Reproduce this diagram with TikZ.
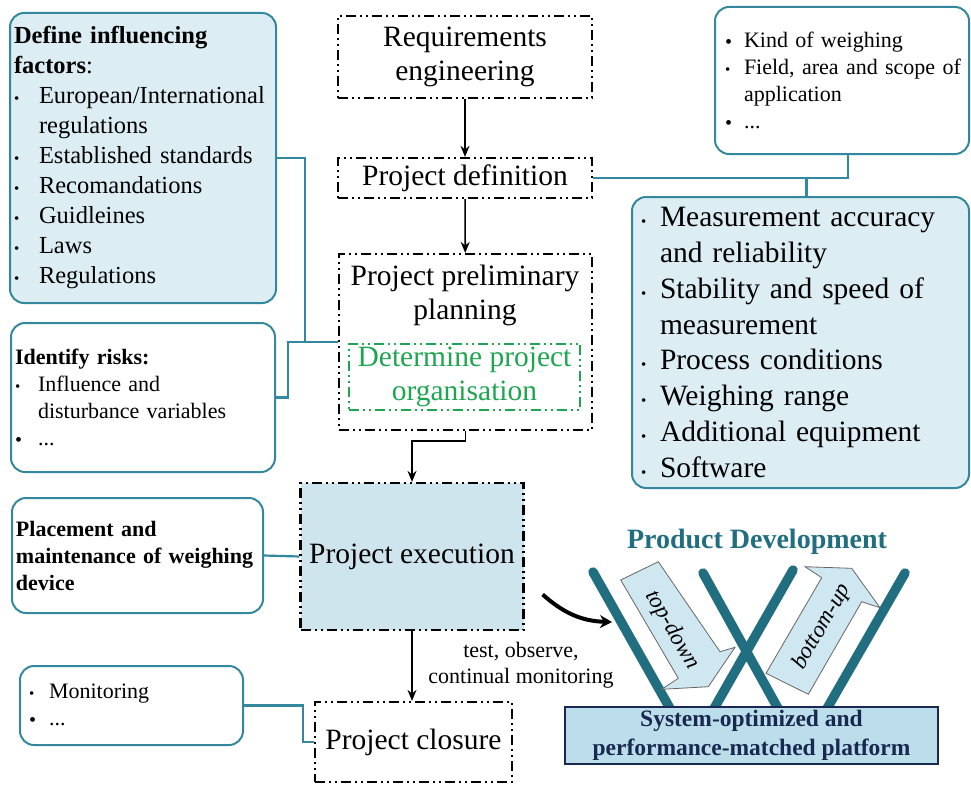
\documentclass[tikz,border=0pt]{standalone}
\usepackage{fontspec}
\setmainfont{Liberation Serif}
\usetikzlibrary{arrows.meta}
\definecolor{boxteal}{RGB}{52,136,158}
\definecolor{boxfill}{RGB}{220,237,244}
\definecolor{execfill}{RGB}{206,229,238}
\definecolor{barteal}{RGB}{32,110,128}
\definecolor{platfill}{RGB}{188,222,234}
\definecolor{platnavy}{RGB}{25,40,80}
\definecolor{orggreen}{RGB}{30,165,80}
\newcommand{\fsz}[2]{\fontsize{#1}{#2}\selectfont}
\newcommand{\itembul}[2][0pt]{\hspace*{#1}\makebox[#2][l]{\raisebox{0pt}{\fsz{15}{15}\textbullet}}}
\newcommand{\bigbul}[2][0pt]{\hspace*{#1}\makebox[#2][l]{\raisebox{-1pt}{\fsz{20}{20}\textbullet}}}
\tikzset{
  stage/.style={draw, line width=2.2pt, dash pattern=on 10pt off 4pt on 2pt off 4pt on 2pt off 4pt, align=center, font=\fsz{29.5}{34}},
  infobox/.style={draw=boxteal, line width=2pt, rounded corners=14pt, align=left, inner xsep=4pt, inner ysep=0pt},
  link/.style={draw=boxteal, line width=2.2pt},
  flow/.style={->, line width=1.6pt},
  bar/.style={barteal, line width=9.5pt, line cap=round},
  blockarrow/.style={fill=boxfill!60!platfill, draw=black!60, line width=0.8pt}
}
\begin{document}
\begin{tikzpicture}[x=1pt,y=-1pt,>={Stealth[length=11pt,width=9pt]}]
	\useasboundingbox (0,0) rectangle (971,784);
	% process chain
	\node[stage, minimum width=254pt, minimum height=82pt] (req) at (465,57) {Requirements\\engineering};
	\node[stage, minimum width=254pt, minimum height=40pt] (def) at (465,178) {Project definition};
	\node[stage, minimum width=253pt, minimum height=176pt] (prelim) at (465.5,342) {};
	\node[font=\fsz{29.5}{34}, align=center] (prelimtxt) at (465,295) {Project preliminary\\planning};
	\node[stage, draw=orggreen, text=orggreen, line width=1.8pt, minimum width=231pt, minimum height=64pt] (orga) at (464.5,377) {Determine project\\organisation};
	\node[stage, fill=execfill, minimum width=223pt, minimum height=147pt] (exec) at (412,556.5) {Project execution};
	\node[stage, minimum width=197pt, minimum height=80pt] (clos) at (413.5,742) {Project closure};
	\node[font=\fsz{22}{26}, align=center] (testlbl) at (521,665) {test, observe,\\continual monitoring};
	\draw[flow] (req) -- (def);
	\draw[flow] (def) -- (prelim);
	\draw[flow] (prelim.south) -- ++(0,10) -| (exec.north);
	\draw[flow] (exec.south) -- (exec.south |- clos.north);
	% boxes on the left
	\node[infobox, fill=boxfill, text width=258pt, minimum height=290pt, font=\fsz{24.5}{30}] (factors) at (143,158) {%
		\textbf{Define influencing}\\
		\textbf{factors}:\\
		\itembul{25pt}European/International\\
		\hspace*{25pt}regulations\\
		\itembul{25pt}Established standards\\
		\itembul{25pt}Recomandations\\
		\itembul{25pt}Guidleines\\
		\itembul{25pt}Laws\\
		\itembul{25pt}Regulations};
	\node[infobox, text width=256pt, minimum height=149pt, font=\fsz{22}{27}] (risks) at (143,397.5) {%
		\textbf{Identify risks:}\\
		\itembul{23pt}Influence and\\
		\hspace*{23pt}disturbance variables\\
		\bigbul{23pt}...};
	\node[infobox, text width=243pt, minimum height=115pt, font=\bfseries\fsz{22}{27}] (place) at (137.5,555.5) {%
		Placement and\\
		maintenance of weighing\\
		device};
	\node[infobox, text width=215pt, minimum height=79pt, font=\fsz{22}{27}] (monit) at (131.5,705.5) {%
		\itembul[5pt]{20pt}Monitoring\\
		\bigbul[5pt]{20pt}...};
	% boxes on the right
	\node[infobox, text width=246pt, minimum height=147pt, font=\fsz{22}{27}] (kind) at (842,80.5) {%
		\bigbul[6pt]{19pt}Kind of weighing\\
		\itembul[6pt]{19pt}Field, area and scope of\\
		\hspace*{25pt}application\\
		\bigbul[6pt]{19pt}...};
	\node[infobox, fill=boxfill, text width=329pt, minimum height=291pt, font=\fsz{29.5}{35.8}] (spec) at (800.5,342.5) {%
		\itembul[5pt]{19pt}Measurement accuracy\\
		\hspace*{24pt}and reliability\\
		\itembul[5pt]{19pt}Stability and speed of\\
		\hspace*{24pt}measurement\\
		\itembul[5pt]{19pt}Process conditions\\
		\itembul[5pt]{19pt}Weighing range\\
		\itembul[5pt]{19pt}Additional equipment\\
		\itembul[5pt]{19pt}Software};
	\draw[link] (factors.east) -- ++(28,0) |- (prelim.west);
	\draw[link] (risks.east) -- ++(12,0) |- (prelim.west);
	\draw[link] (place.east) -- (exec.west);
	\draw[link] (monit.east) -- ++(59,0) |- (clos.west);
	\draw[link] (def.east) -| ([xshift=6pt]kind.south);
	\draw[link] ([xshift=6pt]spec.north) -- ([xshift=6pt]spec.north |- def.east);
	% product development
	\node[font=\bfseries\fsz{28}{32}, text=barteal] (pdtitle) at (757,542) {Product Development};
	\coordinate (b1top) at (593,572);
	\coordinate (b1bot) at (672,712);
	\coordinate (b2top) at (703,573);
	\coordinate (b2bot) at (780,712);
	\coordinate (b3top) at (793,570);
	\coordinate (b3bot) at (712,712);
	\coordinate (b4top) at (905,573);
	\coordinate (b4bot) at (825,712);
	\coordinate (hit) at (612,622);
	\draw[bar] (b1top)--(b1bot) (b2top)--(b2bot) (b3top)--(b3bot) (b4top)--(b4bot);
	\draw[blockarrow] (620.7,580) -- (658.3,561.7) -- (720,651.7) -- (735,647.3) -- (708.3,686.7) -- (661.7,689.3) -- (678.3,678.3) -- cycle;
	\draw[blockarrow] (766,673.3) -- (808.3,694.3) -- (861.7,601.7) -- (880,607.7) -- (851.7,568.3) -- (805,566.7) -- (821.7,577.7) -- cycle;
	\node[rotate=-59.6, font=\itshape\fsz{23}{23}] (tdtxt) at (672,630) {top-down};
	\node[rotate=59.8, font=\itshape\fsz{23}{23}] (butxt) at (822,627) {bottom-up};
	\node[draw=platnavy, fill=platfill, line width=1.4pt, minimum width=373pt, minimum height=55pt, align=center, font=\bfseries\fsz{23.5}{29}, text=platnavy] (platform) at (751.5,735.5) {System-optimized and\\performance-matched platform};
	\draw[line width=4pt, -{Stealth[length=12pt,width=13pt]}] ([xshift=18pt,yshift=-38pt]exec.east) to[bend right=20] (hit);
\end{tikzpicture}
\end{document}
